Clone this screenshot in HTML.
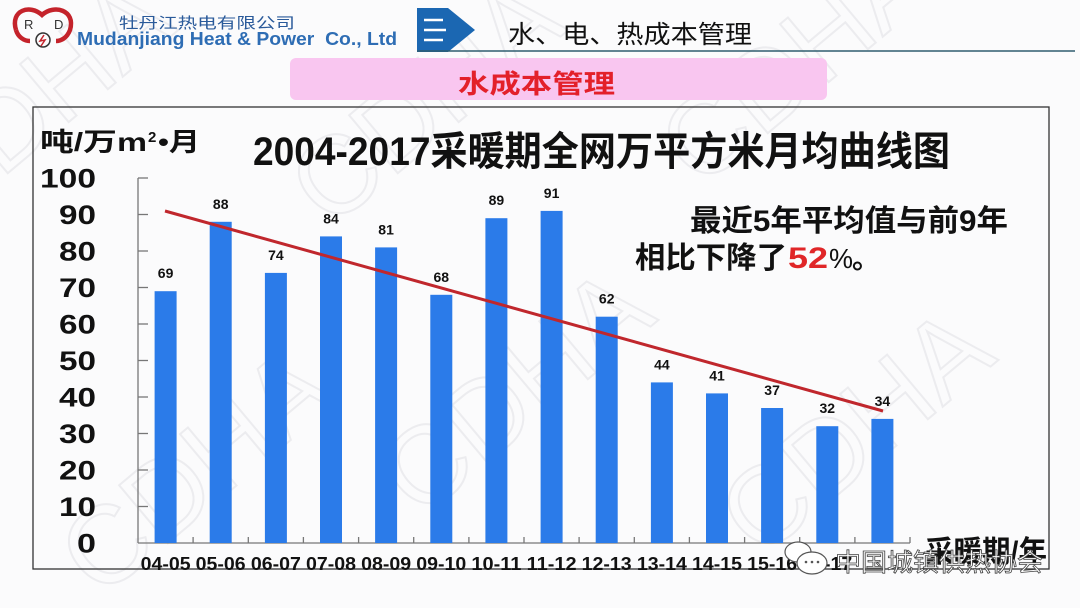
<!DOCTYPE html>
<html><head><meta charset="utf-8"><style>
html,body{margin:0;padding:0;background:#fbfbfc;}
svg{display:block;}
text{font-family:"Liberation Sans","Noto Sans CJK SC",sans-serif;}
</style></head><body>
<svg width="1080" height="608" viewBox="0 0 1080 608" xmlns="http://www.w3.org/2000/svg">
<rect width="1080" height="608" fill="#fbfbfc"/>
<!-- watermarks -->
<g fill="none" stroke="#ececef" stroke-width="2" font-size="110" font-family="Liberation Sans">
<text x="0" y="0" transform="translate(-60,230) rotate(-40)">CDHA</text>
<text x="0" y="0" transform="translate(330,230) rotate(-40)">CDHA</text>
<text x="0" y="0" transform="translate(700,190) rotate(-40)">CDHA</text>
<text x="0" y="0" transform="translate(100,600) rotate(-40)">CDHA</text>
<text x="0" y="0" transform="translate(420,520) rotate(-40)">CDHA</text>
<text x="0" y="0" transform="translate(760,560) rotate(-40)">CDHA</text>
</g>
<!-- logo -->
<g>
<path d="M16,30 C10,10 30,4 42,15 C54,4 76,10 70,30 C67,38 61,41 56,41" fill="none" stroke="#c4232b" stroke-width="4.5"/>
<path d="M16,30 C18,37 24,41 30,41" fill="none" stroke="#c4232b" stroke-width="4.5"/>
<text x="24" y="29" font-size="13" fill="#333">R</text>
<text x="54" y="29" font-size="13" fill="#333">D</text>
<circle cx="43" cy="40" r="7" fill="none" stroke="#333" stroke-width="1.5"/>
<path d="M44,35 L40,41 L45,40 L41,46" fill="none" stroke="#c4232b" stroke-width="1.5"/>
</g>
<text x="119" y="28" font-size="15" fill="#2a5a9a" textLength="176" lengthAdjust="spacingAndGlyphs">牡丹江热电有限公司</text>
<text x="77" y="45" font-size="18" font-weight="bold" fill="#2e6db4" textLength="320" lengthAdjust="spacingAndGlyphs" xml:space="preserve">Mudanjiang Heat &amp; Power  Co., Ltd</text>
<!-- header arrow -->
<polygon points="417,8 448,8 475,30 448,52 417,52" fill="#1b67b2"/>
<line x1="424" y1="20" x2="443" y2="20" stroke="#fff" stroke-width="2.5"/>
<line x1="424" y1="30" x2="446" y2="30" stroke="#fff" stroke-width="2.5"/>
<line x1="424" y1="40" x2="443" y2="40" stroke="#fff" stroke-width="2.5"/>
<line x1="417" y1="51" x2="1075" y2="51" stroke="#2f5d6e" stroke-width="1.5"/>
<text x="508" y="43" font-size="25" fill="#111" textLength="244" lengthAdjust="spacingAndGlyphs">水、电、热成本管理</text>
<rect x="290" y="58" width="537" height="42" rx="6" fill="#f9c6f0"/>
<text x="458" y="93" font-size="26" font-weight="bold" fill="#e3202a" textLength="157" lengthAdjust="spacingAndGlyphs">水成本管理</text>
<!-- frame -->
<rect x="33" y="107" width="1016" height="462" fill="none" stroke="#333" stroke-width="1.3"/>
<!-- titles -->
<text x="253" y="165" font-size="40" font-weight="bold" fill="#111" textLength="697" lengthAdjust="spacingAndGlyphs">2004-2017采暖期全网万平方米月均曲线图</text>
<text x="40" y="151" font-size="26" font-weight="bold" fill="#111" textLength="107" lengthAdjust="spacingAndGlyphs">吨/万m</text>
<text x="148" y="142" font-size="15" font-weight="bold" fill="#111">2</text>
<text x="158" y="151" font-size="26" font-weight="bold" fill="#111" textLength="42" lengthAdjust="spacingAndGlyphs">•月</text>
<!-- y labels -->
<g font-size="27" font-weight="bold" fill="#111" text-anchor="end">
<text x="96" y="187.5" textLength="56" lengthAdjust="spacingAndGlyphs">100</text>
<text x="96" y="224" textLength="37" lengthAdjust="spacingAndGlyphs">90</text>
<text x="96" y="260.5" textLength="37" lengthAdjust="spacingAndGlyphs">80</text>
<text x="96" y="297" textLength="37" lengthAdjust="spacingAndGlyphs">70</text>
<text x="96" y="333.5" textLength="37" lengthAdjust="spacingAndGlyphs">60</text>
<text x="96" y="370" textLength="37" lengthAdjust="spacingAndGlyphs">50</text>
<text x="96" y="406.5" textLength="37" lengthAdjust="spacingAndGlyphs">40</text>
<text x="96" y="443" textLength="37" lengthAdjust="spacingAndGlyphs">30</text>
<text x="96" y="479.5" textLength="37" lengthAdjust="spacingAndGlyphs">20</text>
<text x="96" y="516" textLength="37" lengthAdjust="spacingAndGlyphs">10</text>
<text x="96" y="552.5" textLength="19" lengthAdjust="spacingAndGlyphs">0</text>
</g>
<!-- axes -->
<g stroke="#777" stroke-width="1.3">
<line x1="138" y1="178" x2="138" y2="543"/>
<line x1="138" y1="543" x2="910" y2="543"/>
<line x1="138" y1="178" x2="148" y2="178"/>
<line x1="138" y1="214.5" x2="148" y2="214.5"/>
<line x1="138" y1="251" x2="148" y2="251"/>
<line x1="138" y1="287.5" x2="148" y2="287.5"/>
<line x1="138" y1="324" x2="148" y2="324"/>
<line x1="138" y1="360.5" x2="148" y2="360.5"/>
<line x1="138" y1="397" x2="148" y2="397"/>
<line x1="138" y1="433.5" x2="148" y2="433.5"/>
<line x1="138" y1="470" x2="148" y2="470"/>
<line x1="138" y1="506.5" x2="148" y2="506.5"/>
<line x1="193.1" y1="537" x2="193.1" y2="543"/>
<line x1="248.3" y1="537" x2="248.3" y2="543"/>
<line x1="303.4" y1="537" x2="303.4" y2="543"/>
<line x1="358.6" y1="537" x2="358.6" y2="543"/>
<line x1="413.7" y1="537" x2="413.7" y2="543"/>
<line x1="468.9" y1="537" x2="468.9" y2="543"/>
<line x1="524" y1="537" x2="524" y2="543"/>
<line x1="579.1" y1="537" x2="579.1" y2="543"/>
<line x1="634.3" y1="537" x2="634.3" y2="543"/>
<line x1="689.4" y1="537" x2="689.4" y2="543"/>
<line x1="744.6" y1="537" x2="744.6" y2="543"/>
<line x1="799.7" y1="537" x2="799.7" y2="543"/>
<line x1="854.9" y1="537" x2="854.9" y2="543"/>
<line x1="910" y1="537" x2="910" y2="543"/>
</g>
<!-- bars -->
<g fill="#2b7be9">
<rect x="154.6" y="291.2" width="22" height="251.8"/>
<rect x="209.7" y="221.8" width="22" height="321.2"/>
<rect x="264.9" y="272.9" width="22" height="270.1"/>
<rect x="320" y="236.4" width="22" height="306.6"/>
<rect x="375.1" y="247.4" width="22" height="295.6"/>
<rect x="430.3" y="294.8" width="22" height="248.2"/>
<rect x="485.4" y="218.2" width="22" height="324.8"/>
<rect x="540.6" y="210.9" width="22" height="332.1"/>
<rect x="595.7" y="316.7" width="22" height="226.3"/>
<rect x="650.9" y="382.4" width="22" height="160.6"/>
<rect x="706" y="393.4" width="22" height="149.6"/>
<rect x="761.1" y="408" width="22" height="135"/>
<rect x="816.3" y="426.2" width="22" height="116.8"/>
<rect x="871.4" y="418.9" width="22" height="124.1"/>
</g>
<!-- data labels -->
<g font-size="14" font-weight="bold" fill="#111" text-anchor="middle">
<text x="165.6" y="278.2">69</text>
<text x="220.7" y="208.8">88</text>
<text x="275.9" y="259.9">74</text>
<text x="331" y="223.4">84</text>
<text x="386.1" y="234.4">81</text>
<text x="441.3" y="281.8">68</text>
<text x="496.4" y="205.2">89</text>
<text x="551.6" y="197.9">91</text>
<text x="606.7" y="303.7">62</text>
<text x="661.9" y="369.4">44</text>
<text x="717" y="380.4">41</text>
<text x="772.1" y="395">37</text>
<text x="827.3" y="413.2">32</text>
<text x="882.4" y="405.9">34</text>
</g>
<!-- trend line -->
<line x1="165" y1="211" x2="883" y2="411" stroke="#c0272d" stroke-width="3"/>
<!-- x labels -->
<g font-size="18" font-weight="bold" fill="#111" text-anchor="middle">
<text x="165.6" y="570" textLength="50" lengthAdjust="spacingAndGlyphs">04-05</text>
<text x="220.7" y="570" textLength="50" lengthAdjust="spacingAndGlyphs">05-06</text>
<text x="275.9" y="570" textLength="50" lengthAdjust="spacingAndGlyphs">06-07</text>
<text x="331" y="570" textLength="50" lengthAdjust="spacingAndGlyphs">07-08</text>
<text x="386.1" y="570" textLength="50" lengthAdjust="spacingAndGlyphs">08-09</text>
<text x="441.3" y="570" textLength="50" lengthAdjust="spacingAndGlyphs">09-10</text>
<text x="496.4" y="570" textLength="50" lengthAdjust="spacingAndGlyphs">10-11</text>
<text x="551.6" y="570" textLength="50" lengthAdjust="spacingAndGlyphs">11-12</text>
<text x="606.7" y="570" textLength="50" lengthAdjust="spacingAndGlyphs">12-13</text>
<text x="661.9" y="570" textLength="50" lengthAdjust="spacingAndGlyphs">13-14</text>
<text x="717" y="570" textLength="50" lengthAdjust="spacingAndGlyphs">14-15</text>
<text x="772.1" y="570" textLength="50" lengthAdjust="spacingAndGlyphs">15-16</text>
<text x="827.3" y="570" textLength="50" lengthAdjust="spacingAndGlyphs">16-17</text>
</g>
<text x="925" y="562" font-size="30" font-weight="bold" fill="#111" textLength="122" lengthAdjust="spacingAndGlyphs">采暖期/年</text>
<!-- annotation -->
<text x="690" y="231" font-size="30" font-weight="bold" fill="#111" textLength="318" lengthAdjust="spacingAndGlyphs">最近5年平均值与前9年</text>
<text x="635" y="268" font-size="30" font-weight="bold" fill="#111" textLength="152" lengthAdjust="spacingAndGlyphs">相比下降了</text>
<text x="788" y="268" font-size="30" font-weight="bold" fill="#e02628" textLength="40" lengthAdjust="spacingAndGlyphs">52</text>
<text x="829" y="268" font-size="28" fill="#111" textLength="24" lengthAdjust="spacingAndGlyphs">%</text>
<text x="852" y="268" font-size="28" font-weight="bold" fill="#111">。</text>
<!-- wechat watermark -->
<g>
<ellipse cx="798" cy="552" rx="13" ry="10" fill="#fff" stroke="#555" stroke-width="1.2"/>
<ellipse cx="812" cy="563" rx="15" ry="11" fill="#fff" stroke="#555" stroke-width="1.2"/>
<circle cx="806" cy="562" r="1.3" fill="#555"/>
<circle cx="812" cy="562" r="1.3" fill="#555"/>
<circle cx="818" cy="562" r="1.3" fill="#555"/>
<text x="835" y="571" font-size="25" fill="#fff" stroke="#444" stroke-width="0.8" textLength="208" lengthAdjust="spacingAndGlyphs">中国城镇供热协会</text>
</g>
</svg>
</body></html>
